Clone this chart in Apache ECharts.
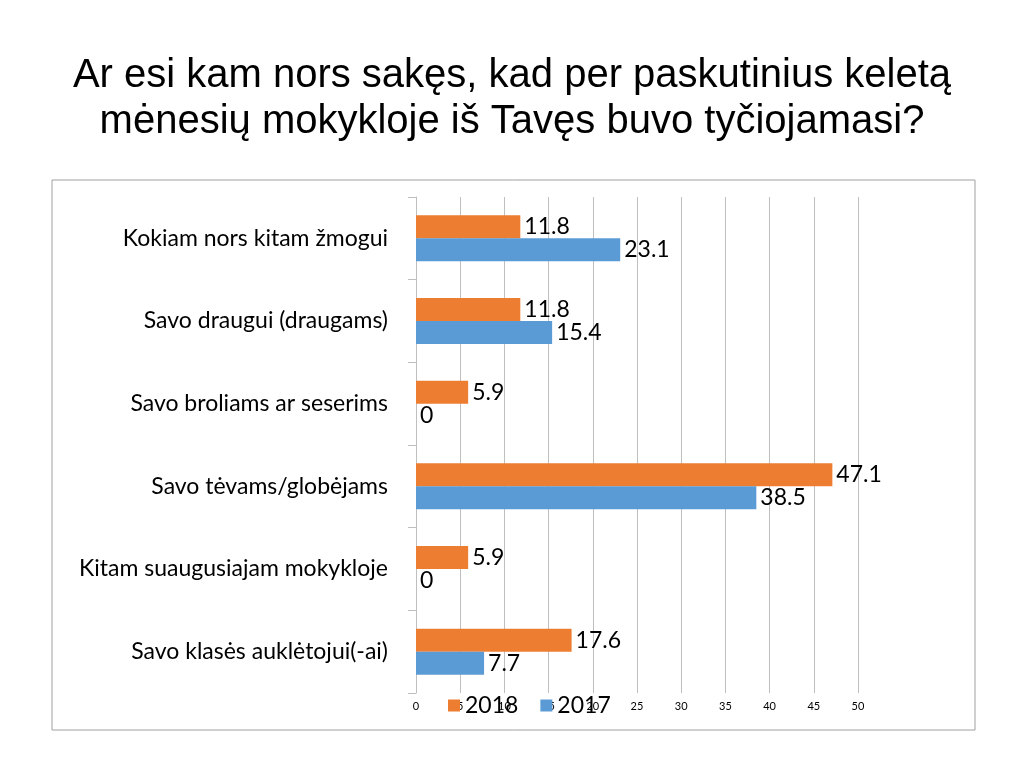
<!DOCTYPE html>
<html><head><meta charset="utf-8">
<script src="https://cdn.jsdelivr.net/npm/echarts@6/dist/echarts.min.js"></script>
<style>html,body{margin:0;padding:0;background:#fff}#c{width:1024px;height:768px}</style>
</head><body><div id="c"></div>
<script>
const categories = ["Savo klasės auklėtojui(-ai)","Kitam suaugusiajam mokykloje","Savo tėvams/globėjams","Savo broliams ar seserims","Savo draugui (draugams)","Kokiam nors kitam žmogui"];
const values2018 = [17.6,5.9,47.1,5.9,11.8,11.8];
const values2017 = [7.7,0,38.5,0,15.4,23.1];
const xTicks = {min:0,max:50,interval:5};
const chart = echarts.init(document.getElementById('c'));
const lbl = {show:true,position:'right',fontFamily:'Lato',fontSize:23,color:'#000',distance:4};
chart.setOption({
  animation:false,
  title:{text:'Ar esi kam nors sakęs, kad per paskutinius keletą\nmėnesių mokykloje iš Tavęs buvo tyčiojamasi?',left:'center',top:48,
    textStyle:{fontFamily:'Liberation Sans',fontSize:40,fontWeight:'normal',color:'#000',lineHeight:46}},
  graphic:[{type:'rect',shape:{x:52,y:180,width:923,height:550},style:{fill:'none',stroke:'#a0a0a0',lineWidth:1}}],
  legend:{data:['2018','2017'],left:443,top:689,itemWidth:12,itemHeight:12,itemGap:22,icon:'rect',
    textStyle:{fontFamily:'Lato',fontSize:23,color:'#000'}},
  grid:{left:416,right:166,top:197,bottom:75},
  xAxis:{type:'value',min:xTicks.min,max:xTicks.max,interval:xTicks.interval,
    axisLabel:{fontFamily:'Lato',fontSize:11,color:'#000'},
    splitLine:{show:true,lineStyle:{color:'#bfbfbf'}},axisLine:{show:false},axisTick:{show:false}},
  yAxis:{type:'category',data:categories,
    axisLine:{show:true,lineStyle:{color:'#bfbfbf'}},
    axisTick:{show:true,length:8,lineStyle:{color:'#bfbfbf'}},
    axisLabel:{fontFamily:'Lato',fontSize:23,color:'#000',margin:28}},
  series:[
    {name:'2018',type:'bar',data:values2018,barWidth:23,barGap:'0%',itemStyle:{color:'#ed7d31'},label:lbl},
    {name:'2017',type:'bar',data:values2017,barWidth:23,barGap:'0%',itemStyle:{color:'#5b9bd5'},label:lbl}
  ]
});
</script></body></html>
